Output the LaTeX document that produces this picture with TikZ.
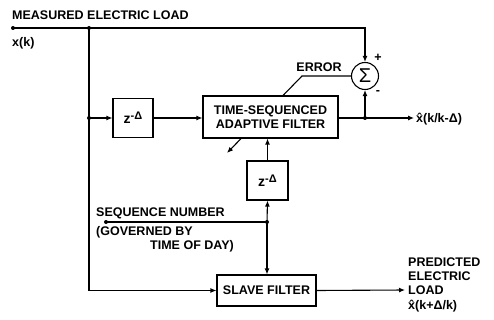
\documentclass[tikz,border=0pt]{standalone}
\usepackage{fontspec}
\setmainfont{Liberation Sans}
\usetikzlibrary{arrows.meta}
\begin{document}
\begin{tikzpicture}[x=1pt,y=-1pt,
  every node/.style={font=\fontsize{12.5}{14}\selectfont\bfseries},
  line/.style={line width=1.1pt},
  arr/.style={line width=1.1pt,-{Latex[length=6pt,width=5pt]}},
  blk/.style={draw,line width=1.1pt,fill=white,align=center,inner sep=0pt},
  lbl/.style={anchor=west,inner sep=0pt,align=left},
  zlbl/.style={font=\fontsize{14}{14}\selectfont\bfseries},
  dot/.style={circle,fill,inner sep=0pt,minimum size=4pt}]
\useasboundingbox (0,0) rectangle (494,320);
% coordinates
\coordinate (in) at (13,28);
\coordinate (j1) at (89,28);
\coordinate (j2) at (89,118);
\coordinate (j3) at (365,118);
\coordinate (outtip) at (414,118);
\coordinate (sq) at (106,222);
\coordinate (j4) at (267,222);
\coordinate (predtip) at (405,290);
\coordinate (errc) at (302,76);
\coordinate (errtip) at (227,153);
% sigma
\node[draw,circle,line width=1.1pt,minimum size=27pt,inner sep=0pt,font=\fontsize{20}{20}\selectfont] (sig) at (365,76) {Σ};
% error line (behind filter box)
\draw[arr] (sig.west) -- (errc) -- (errtip);
% blocks
\node[blk,zlbl,minimum width=40pt,minimum height=39pt] (zd1) at (133,118) {z\raisebox{0.55ex}{\fontsize{11}{11}\selectfont -Δ}};
\node[blk,minimum width=135pt,minimum height=42pt] (tsaf) at (270.5,117) {TIME-SEQUENCED\\ADAPTIVE FILTER};
\node[blk,zlbl,minimum width=41pt,minimum height=39pt] (zd2) at (267.5,180.5) {z\raisebox{0.55ex}{\fontsize{11}{11}\selectfont -Δ}};
\node[blk,minimum width=99pt,minimum height=31pt] (slave) at (266.5,290.5) {SLAVE FILTER};
% connectors
\draw[arr] (in) -| (sig.north);
\draw[arr] (j1) |- (slave.west);
\draw[arr] (j2) -- (zd1.west);
\draw[arr] (zd1.east) -- (zd1.east -| tsaf.west);
\draw[arr] (j3 -| tsaf.east) -- (outtip);
\draw[arr] (j3) -- (sig.south);
\draw[arr] (zd2.north) -- (zd2.north |- tsaf.south);
\draw[line] (sq) -- (j4);
\draw[arr] (j4) -- (zd2.south);
\draw[arr] (j4) -- (j4 |- slave.north);
\draw[arr] (slave.east) -- (predtip);
% dots
\foreach \p in {in,j1,j2,j3,sq,j4} \node[dot] at (\p) {};
% labels
\node[lbl] (t1) at (12,15) {MEASURED ELECTRIC LOAD};
\node[lbl] (t2) at (12,43) {x(k)};
\node (t3) at (319,67) {ERROR};
\node (t4) at (378,58) {+};
\node (t5) at (378,93) {-};
\node[lbl] (t6) at (416,119) {\^{x}(k/k-Δ)};
\node[lbl] (t7) at (96,213) {SEQUENCE NUMBER};
\node[lbl] (t8) at (96,232) {(GOVERNED BY};
\node[lbl] (t9) at (150,246) {TIME OF DAY)};
\node[lbl] (t10) at (408,276) {PREDICTED\\ELECTRIC\\LOAD};
\node[lbl] (t11) at (408,306) {\^{x}(k+Δ/k)};
\end{tikzpicture}
\end{document}
